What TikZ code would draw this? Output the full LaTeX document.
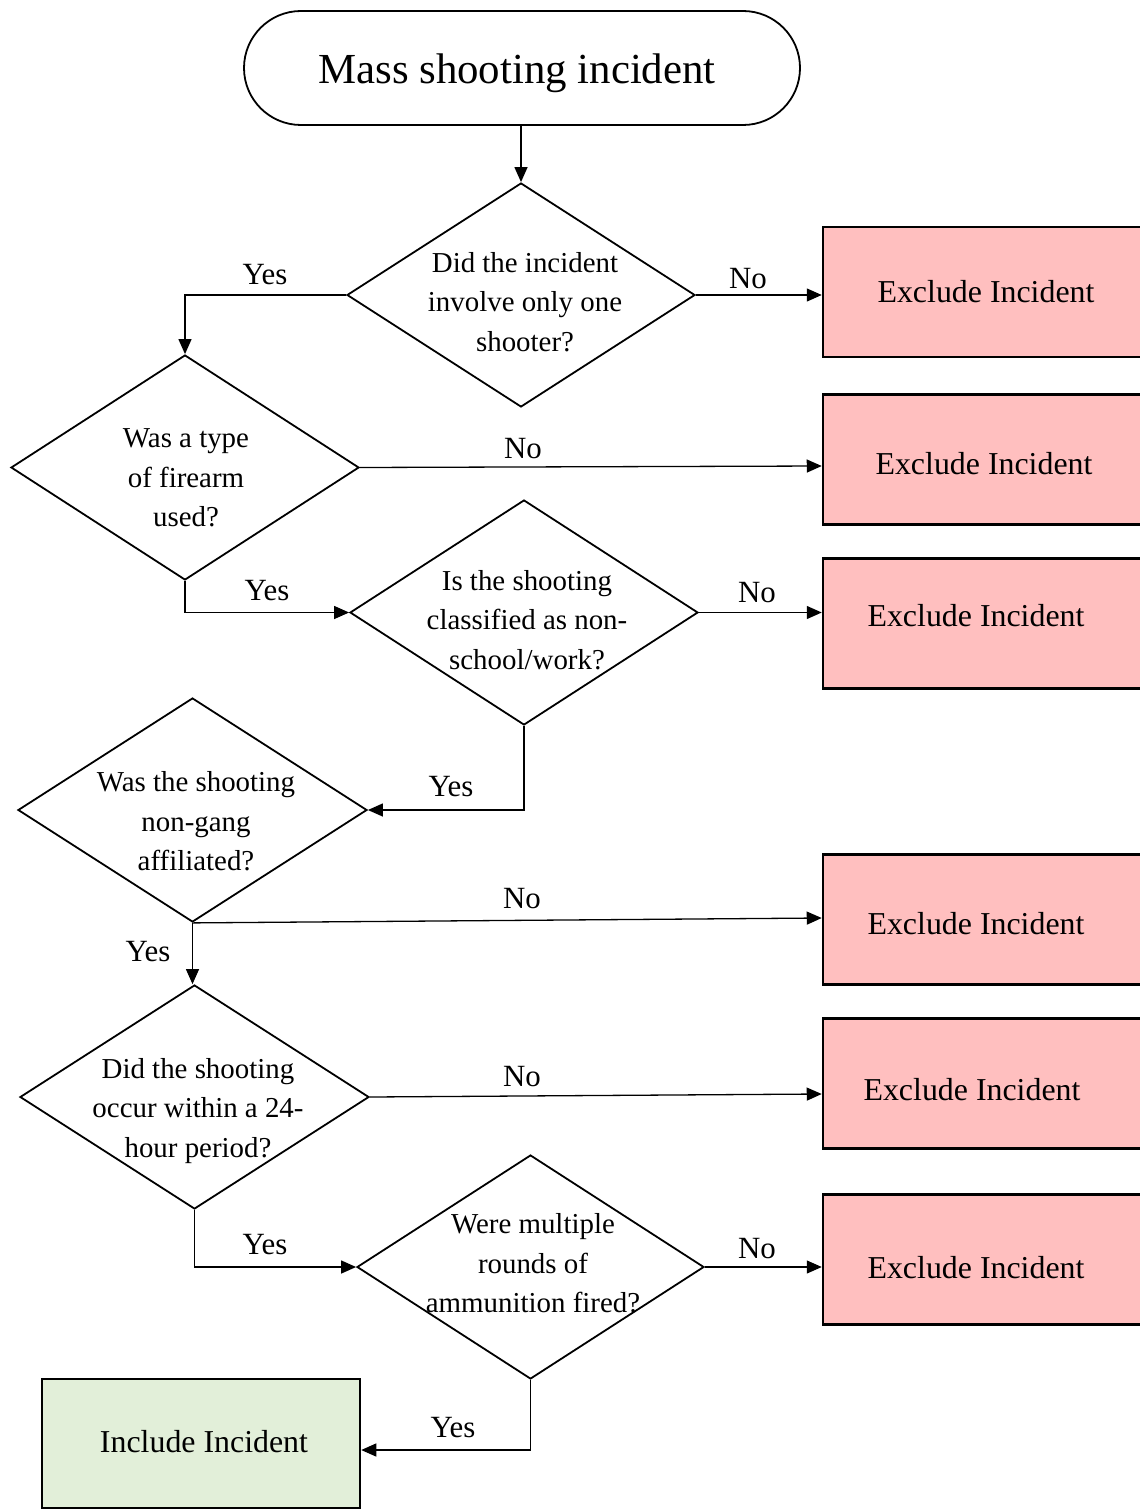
\documentclass[tikz,border=0pt]{standalone}
\usepackage{fontspec}
\setmainfont{Liberation Serif}
\usetikzlibrary{shapes.geometric,arrows.meta}
\definecolor{pinkfill}{RGB}{255,191,191}
\definecolor{greenfill}{RGB}{226,239,217}
\tikzset{
  dia/.style={draw, line width=1.8bp, shape=diamond, inner sep=0pt},
  dtext/.style={align=center, font=\fontsize{29}{39.5}\selectfont, inner sep=0pt},
  exbox/.style={draw, line width=2.5bp, fill=pinkfill, minimum width=327bp, minimum height=130bp, inner sep=0pt},
  inbox/.style={draw, line width=2.5bp, fill=greenfill, minimum width=318bp, minimum height=129bp, inner sep=0pt},
  btext/.style={inner sep=0pt, font=\fontsize{32}{38}\selectfont},
  term/.style={draw, line width=1.8bp, minimum width=556bp, minimum height=114bp, rounded corners=57bp, inner sep=0pt},
  ttext/.style={inner sep=0pt, font=\fontsize{43}{48}\selectfont},
  lbl/.style={inner sep=0pt, font=\fontsize{31}{36}\selectfont},
  arr/.style={line width=1.3bp, -{Triangle[length=15bp,width=13bp]}},
}
\begin{document}
\begin{tikzpicture}[x=1bp,y=1bp]
\useasboundingbox (0,0) rectangle (1139,-1509);
\fill[white] (0,0) rectangle (1139,-1509);
% terminal
\node[term] (t) at (522,-68) {};
\node[ttext] (tt) at (517,-73) {Mass shooting incident};
% diamonds
\node[dia, minimum width=348bp, minimum height=224bp] (d1) at (521,-295) {};
\node[dtext] (d1t) at (525,-302) {Did the incident\\involve only one\\shooter?};
\node[dia, minimum width=348bp, minimum height=225bp] (d2) at (185,-467.5) {};
\node[dtext] (d2t) at (186,-478) {Was a type\\of firearm\\used?};
\node[dia, minimum width=348bp, minimum height=225bp] (d3) at (524,-612.5) {};
\node[dtext] (d3t) at (527,-620) {Is the shooting\\classified as non-\\school/work?};
\node[dia, minimum width=349bp, minimum height=224bp] (d4) at (192.5,-810) {};
\node[dtext] (d4t) at (196,-821.5) {Was the shooting\\non-gang\\affiliated?};
\node[dia, minimum width=349bp, minimum height=224bp] (d5) at (194.5,-1097) {};
\node[dtext] (d5t) at (198,-1111) {Did the shooting\\occur within a 24-\\hour period?};
\node[dia, minimum width=347bp, minimum height=224bp] (d6) at (530.5,-1267) {};
\node[dtext] (d6t) at (533,-1263.5) {Were multiple\\rounds of\\ammunition fired?};
% boxes
\node[exbox] (b1) at (986.5,-292) {};
\node[btext] (b1t) at (986,-292) {Exclude Incident};
\node[exbox] (b2) at (986.5,-459.5) {};
\node[btext] (b2t) at (984,-464) {Exclude Incident};
\node[exbox] (b3) at (986.5,-623.5) {};
\node[btext] (b3t) at (976,-616) {Exclude Incident};
\node[exbox] (b4) at (986.5,-919.5) {};
\node[btext] (b4t) at (976,-924) {Exclude Incident};
\node[exbox] (b5) at (986.5,-1083.5) {};
\node[btext] (b5t) at (972,-1090) {Exclude Incident};
\node[exbox] (b6) at (986.5,-1259.5) {};
\node[btext] (b6t) at (976,-1268) {Exclude Incident};
\node[inbox] (inc) at (201,-1443.5) {};
\node[btext] (inct) at (204,-1442) {Include Incident};
% connectors
\draw[arr] (t.south -| d1.north) -- (d1.north);
\draw[arr] (d1.west) -| (d2.north);
\draw[arr] (d1.east) -- (d1.east -| b1.west);
\draw[arr] (d2.east) -- ([yshift=-6.5bp]b2.west);
\draw[arr] (d2.south) |- (d3.west);
\draw[arr] (d3.east) -- (d3.east -| b3.west);
\draw[arr] (d3.south) |- (d4.east);
\draw[arr] (d4.south) -- ([yshift=1.5bp]b4.west);
\draw[arr] (d4.south) -- (d4.south |- d5.north);
\draw[arr] (d5.east) -- ([yshift=-10.5bp]b5.west);
\draw[arr] (d5.south) |- (d6.west);
\draw[arr] (d6.east) -- (d6.east -| b6.west);
\draw[arr] (d6.south) |- ([yshift=-6.5bp]inc.east);
% labels
\node[lbl] (l1) at (265,-275) {Yes};
\node[lbl] (l2) at (748,-279) {No};
\node[lbl] (l3) at (523,-449) {No};
\node[lbl] (l4) at (267,-591) {Yes};
\node[lbl] (l5) at (757,-593) {No};
\node[lbl] (l6) at (451,-787) {Yes};
\node[lbl] (l7) at (522,-899) {No};
\node[lbl] (l8) at (148,-952) {Yes};
\node[lbl] (l9) at (522,-1077) {No};
\node[lbl] (l10) at (265,-1245) {Yes};
\node[lbl] (l11) at (757,-1249) {No};
\node[lbl] (l12) at (453,-1428) {Yes};
\end{tikzpicture}
\end{document}
